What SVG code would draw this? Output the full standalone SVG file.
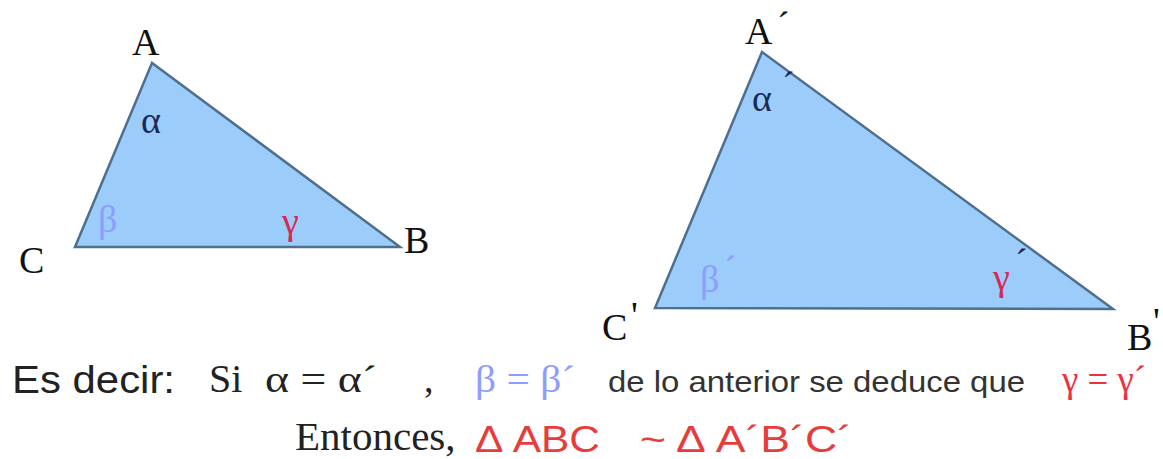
<svg xmlns="http://www.w3.org/2000/svg" width="1163" height="459" viewBox="0 0 1163 459">
<style>
.tri{fill:#9cccfa;stroke:#4f6f8f;stroke-width:2.5;stroke-linejoin:miter}
.lbl{font-family:"Liberation Serif",serif;font-size:38px;fill:#111}
.gk{font-family:"Liberation Serif",serif;font-size:38px}
.alpha{fill:#1a2a55}
.beta{fill:#8e9cff}
.gamma{fill:#d42a55}
.sans{font-family:"Liberation Sans",Arial,sans-serif}
.serif{font-family:"Liberation Serif",serif}
</style>
<rect width="1163" height="459" fill="#ffffff"/>
<g id="triangle1">
<polygon class="tri" points="152,63 75,247 400,247"/>
<text class="lbl" x="132" y="55">A</text>
<text class="lbl" x="404" y="253">B</text>
<text class="lbl" x="19" y="273">C</text>
<text class="gk alpha" x="141" y="133">α</text>
<text class="gk beta" x="98" y="232">β</text>
<text class="gk gamma" x="282" y="234">γ</text>
</g>
<g id="triangle2">
<polygon class="tri" points="762,52 655,308 1113,309"/>
<text class="lbl" x="745" y="44">A</text>
<text class="lbl" x="777" y="38" font-size="24">´</text>
<text class="lbl" x="602" y="340" font-size="40">C</text>
<text class="lbl" x="631" y="328" font-size="26">'</text>
<text class="lbl" x="1127" y="350" font-size="40">B</text>
<text class="lbl" x="1153" y="334" font-size="26">'</text>
<text class="gk alpha" x="752" y="111">α</text>
<text class="gk alpha" x="782" y="98" font-size="24">´</text>
<text class="gk beta" x="700" y="292">β</text>
<text class="gk beta" x="724" y="282" font-size="22">´</text>
<text class="gk gamma" x="993" y="290">γ</text>
<text class="gk alpha" x="1015" y="275" font-size="22">´</text>
</g>
<g id="statement">
<text class="sans" x="12" y="393" font-size="38" fill="#222" textLength="163" lengthAdjust="spacingAndGlyphs">Es decir:</text>
<text class="serif" x="209" y="392" font-size="40" fill="#222">Si</text>
<text class="serif" x="265" y="392" font-size="38" fill="#222" textLength="112" lengthAdjust="spacingAndGlyphs">α = α´</text>
<text class="serif" x="424" y="392" font-size="38" fill="#222">,</text>
<text class="serif beta" x="475" y="392" font-size="38" textLength="100" lengthAdjust="spacingAndGlyphs">β = β´</text>
<text class="sans" x="608" y="392" font-size="29" fill="#333" textLength="417" lengthAdjust="spacingAndGlyphs">de lo anterior se deduce que</text>
<text class="serif" x="1062" y="392" font-size="38" fill="#ee3040" textLength="84" lengthAdjust="spacingAndGlyphs">γ = γ´</text>
</g>
<g id="conclusion">
<text class="serif" x="295" y="450" font-size="41" fill="#222">Entonces,</text>
<text class="sans" x="475" y="452" font-size="37" fill="#e83c3c" textLength="125" lengthAdjust="spacingAndGlyphs">Δ ABC</text>
<text class="sans" x="640" y="452" font-size="37" fill="#e83c3c" textLength="212" lengthAdjust="spacingAndGlyphs">~ Δ A´B´C´</text>
</g>
</svg>
